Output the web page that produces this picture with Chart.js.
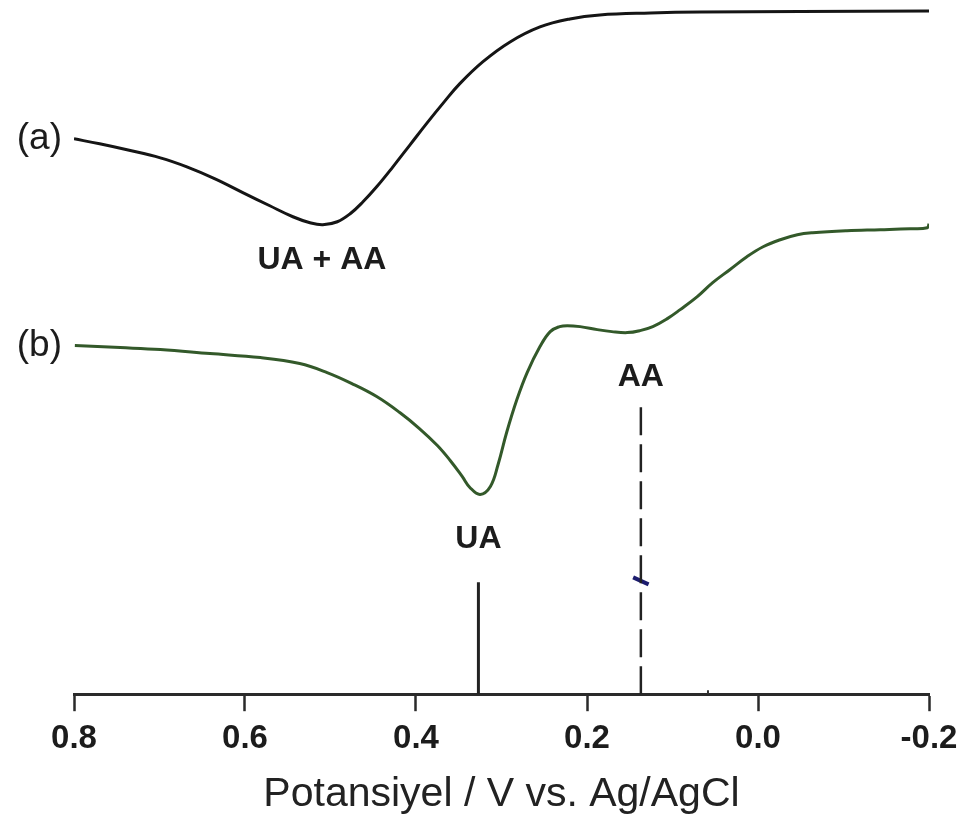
<!DOCTYPE html>
<html>
<head>
<meta charset="utf-8">
<script src="https://cdn.jsdelivr.net/npm/chart.js@4/dist/chart.umd.min.js"></script>
<style>
  html, body { margin: 0; padding: 0; background: #ffffff; }
  #wrap { width: 959px; height: 825px; }
</style>
</head>
<body>
<div id="wrap"><canvas id="chart"></canvas></div>
<script>
// Differential pulse voltammograms: (a) bare electrode, (b) modified electrode
const potentialA = [0.800, 0.770, 0.738, 0.699, 0.668, 0.635, 0.602, 0.571, 0.544, 0.524, 0.509, 0.492, 0.477, 0.462, 0.446, 0.427, 0.407, 0.387, 0.368, 0.349, 0.322, 0.290, 0.255, 0.220, 0.185, 0.126, 0.068, -0.049, -0.200];
const currentA   = [55.6, 55.1, 54.5, 53.7, 52.8, 51.6, 50.2, 48.9, 47.8, 47.2, 47.0, 47.3, 48.1, 49.3, 50.8, 52.8, 55.0, 57.2, 59.2, 61.1, 63.3, 65.3, 66.8, 67.6, 68.0, 68.2, 68.3, 68.35, 68.4];

const potentialB = [0.799, 0.746, 0.699, 0.641, 0.582, 0.536, 0.504, 0.475, 0.446, 0.419, 0.396, 0.375, 0.360, 0.346, 0.337, 0.325, 0.313, 0.304, 0.294, 0.282, 0.270, 0.255, 0.243, 0.232, 0.223, 0.208, 0.188, 0.171, 0.153, 0.138, 0.123, 0.106, 0.091, 0.071, 0.053, 0.033, 0.013, -0.006, -0.026, -0.046, -0.064, -0.104, -0.143, -0.178, -0.198, -0.200];
const currentB   = [34.9, 34.7, 34.5, 34.1, 33.7, 33.1, 32.2, 31.1, 29.8, 28.2, 26.6, 24.9, 23.4, 21.8, 20.7, 20.0, 20.8, 23.0, 26.2, 29.5, 32.2, 34.8, 36.3, 36.8, 36.9, 36.8, 36.5, 36.3, 36.2, 36.4, 36.8, 37.6, 38.5, 39.8, 41.2, 42.5, 43.8, 44.8, 45.5, 46.0, 46.2, 46.4, 46.5, 46.6, 46.7, 47.1];

// Peak potentials (V) and the height of their marker lines
const peakUA = [0.327, 0.0, 11.2];   // potential, base, top
const peakAA = [0.137, 0.0, 29.3];
const stray  = [[0.146, 11.7], [0.128, 11.0]];
const axisNick = [[0.0585, 0.0], [0.0585, 0.4]];

const tickValues = [0.8, 0.6, 0.4, 0.2, 0.0, -0.2];
const curveLabels = ['(a)', '(b)'];
const peakLabels = [
  { text: 'UA + AA', x: 0.510, y: 43.5 },
  { text: 'UA',      x: 0.327, y: 15.5 },
  { text: 'AA',      x: 0.137, y: 31.7 }
];

const toPoints = (xs, ys) => xs.map((x, i) => ({ x: x, y: ys[i] }));
const FONT = "'Liberation Sans', Arial, 'DejaVu Sans', sans-serif";
const INK = '#1c1c1c';

const labelPlugin = {
  id: 'peakLabels',
  afterDatasetsDraw(chart) {
    const ctx = chart.ctx;
    const xs = chart.scales.x, ys = chart.scales.y;
    ctx.save();
    ctx.fillStyle = INK;
    ctx.textAlign = 'center';
    ctx.textBaseline = 'middle';
    ctx.font = 'bold 32px ' + FONT;
    peakLabels.forEach(l => {
      ctx.fillText(l.text, xs.getPixelForValue(l.x), ys.getPixelForValue(l.y));
    });
    ctx.font = '37px ' + FONT;
    ctx.textAlign = 'right';
    [currentA[0], currentB[0]].forEach((v, i) => {
      ctx.fillText(curveLabels[i], chart.chartArea.left - 12, ys.getPixelForValue(v));
    });
    ctx.restore();
  }
};

new Chart(document.getElementById('chart'), {
  type: 'line',
  data: {
    datasets: [
      { data: toPoints(potentialA, currentA), borderColor: '#151515', borderWidth: 3, tension: 0.4 },
      { data: toPoints(potentialB, currentB), borderColor: '#33592a', borderWidth: 3, tension: 0.4 },
      { data: [{ x: peakUA[0], y: peakUA[1] }, { x: peakUA[0], y: peakUA[2] }], borderColor: '#222222', borderWidth: 3 },
      { data: [{ x: peakAA[0], y: peakAA[1] }, { x: peakAA[0], y: peakAA[2] }], borderColor: '#222222', borderWidth: 2.5, borderDash: [28, 9] },
      { data: stray.map(p => ({ x: p[0], y: p[1] })), borderColor: '#1c1c6e', borderWidth: 4 },
      { data: axisNick.map(p => ({ x: p[0], y: p[1] })), borderColor: '#333333', borderWidth: 2 }
    ]
  },
  options: {
    responsive: true,
    maintainAspectRatio: false,
    animation: false,
    devicePixelRatio: 1,
    layout: { padding: { left: 74, right: 30, top: 5, bottom: 6 } },
    elements: { point: { radius: 0 }, line: { fill: false, borderCapStyle: 'butt' } },
    plugins: { legend: { display: false }, tooltip: { enabled: false } },
    scales: {
      x: {
        type: 'linear',
        reverse: true,
        min: -0.2,
        max: 0.8,
        afterBuildTicks: s => { s.ticks = tickValues.map(v => ({ value: v })); },
        afterFit: s => { s.paddingLeft = 0; s.paddingRight = 0; },
        ticks: {
          callback: v => (Math.abs(v) < 1e-9 ? 0 : v).toFixed(1),
          color: INK,
          font: { family: FONT, size: 33, weight: 'bold' },
          padding: 8,
          maxRotation: 0,
          autoSkip: false
        },
        grid: { drawOnChartArea: false, drawTicks: true, tickLength: 17, tickColor: '#2a2a2a', tickWidth: 2.5 },
        border: { display: true, color: '#2a2a2a', width: 3 },
        title: {
          display: true,
          text: 'Potansiyel / V vs. Ag/AgCl',
          color: '#222222',
          font: { family: FONT, size: 41 },
          padding: { top: 3, bottom: 0 }
        }
      },
      y: {
        type: 'linear',
        display: false,
        min: 0,
        max: 69
      }
    }
  },
  plugins: [labelPlugin]
});
</script>
</body>
</html>
